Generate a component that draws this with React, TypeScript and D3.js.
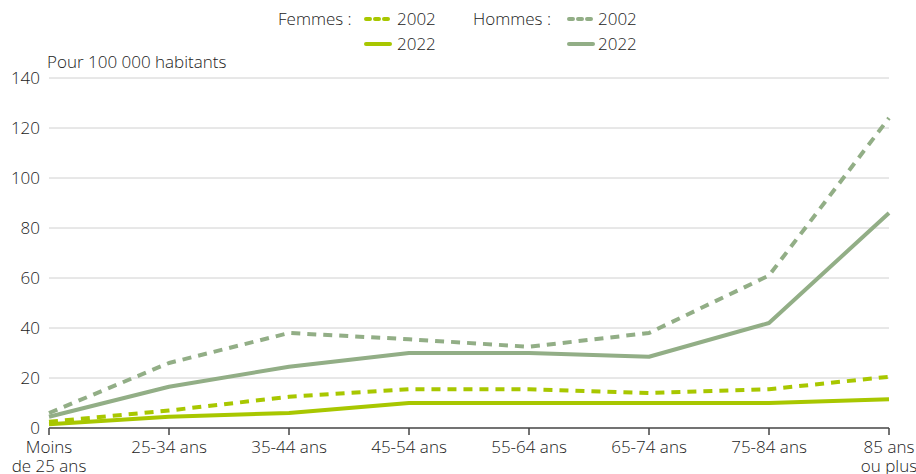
import React from 'react';
import { scalePoint, scaleLinear, line, curveLinear } from 'd3';

const categories = ['Moins\nde 25 ans', '25-34 ans', '35-44 ans', '45-54 ans', '55-64 ans', '65-74 ans', '75-84 ans', '85 ans\nou plus'];
const femmes2002 = [2.5, 7, 12.5, 15.5, 15.5, 14, 15.5, 20.5];
const femmes2022 = [1.5, 4.5, 6, 10, 10, 10, 10, 11.5];
const hommes2002 = [6, 26, 38, 35.5, 32.5, 38, 61, 124];
const hommes2022 = [4.5, 16.5, 24.5, 30, 30, 28.5, 42, 86];
const yTicks = [0, 20, 40, 60, 80, 100, 120, 140];

const femColor = '#a8c700';
const homColor = '#92ae86';
const textColor = '#222';
const font = '"Open Sans", Lato, sans-serif';

export default function App() {
  const width = 916, height = 474;
  const left = 49, right = 889, top = 78, bottom = 428;

  const x = scalePoint<string>().domain(categories).range([left, right]);
  const y = scaleLinear().domain([0, 140]).range([bottom, top]);

  const lineF = line<number>()
    .x((d, i) => x(categories[i]) as number)
    .y(d => y(d))
    .curve(curveLinear);

  const series = [
    { values: femmes2002, color: femColor, dashed: true },
    { values: femmes2022, color: femColor, dashed: false },
    { values: hommes2002, color: homColor, dashed: true },
    { values: hommes2022, color: homColor, dashed: false },
  ];

  const legendSwatch = (x0: number, yy: number, color: string, dashed: boolean) => (
    <line x1={x0} x2={x0 + 24} y1={yy} y2={yy} stroke={color} strokeWidth={4}
      strokeLinecap="round" strokeDasharray={dashed ? '4,5' : undefined} />
  );

  return (
    <svg width={width} height={height} style={{ position: 'absolute', left: 0, top: 0, fontFamily: font, fontWeight: 300 }}>
      {/* legend */}
      <g fontSize={17} fill={textColor}>
        <text x={278} y={25}>Femmes :</text>
        {legendSwatch(366, 19, femColor, true)}
        <text x={397} y={25}>2002</text>
        {legendSwatch(366, 44, femColor, false)}
        <text x={397} y={50}>2022</text>
        <text x={473} y={25}>Hommes :</text>
        {legendSwatch(569, 19, homColor, true)}
        <text x={598} y={25}>2002</text>
        {legendSwatch(569, 44, homColor, false)}
        <text x={598} y={50}>2022</text>
      </g>

      <text x={47} y={68} fontSize={17} fill={textColor}>Pour 100 000 habitants</text>

      {/* grid + y labels */}
      {yTicks.map(t => (
        <g key={t}>
          {t > 0 && <line x1={left} x2={right} y1={y(t)} y2={y(t)} stroke="#d0d0d0" strokeWidth={1} />}
          <text x={40} y={y(t) + 6} textAnchor="end" fontSize={17} fill={textColor}>{t}</text>
        </g>
      ))}

      {/* x axis */}
      <line x1={left} x2={right} y1={bottom} y2={bottom} stroke="#444" strokeWidth={1.5} />
      {categories.map(c => (
        <g key={c} transform={`translate(${x(c)},${bottom})`}>
          <line y1={0} y2={7} stroke="#444" strokeWidth={1.5} />
          {c.split('\n').map((l, i) => (
            <text key={i} y={25 + i * 19} textAnchor="middle" fontSize={17} fill={textColor}>{l}</text>
          ))}
        </g>
      ))}

      {/* lines */}
      {series.map((s, i) => (
        <path key={i} d={lineF(s.values) || ''} fill="none" stroke={s.color} strokeWidth={4}
          strokeDasharray={s.dashed ? '9,7' : undefined} strokeLinejoin="round" />
      ))}
    </svg>
  );
}
